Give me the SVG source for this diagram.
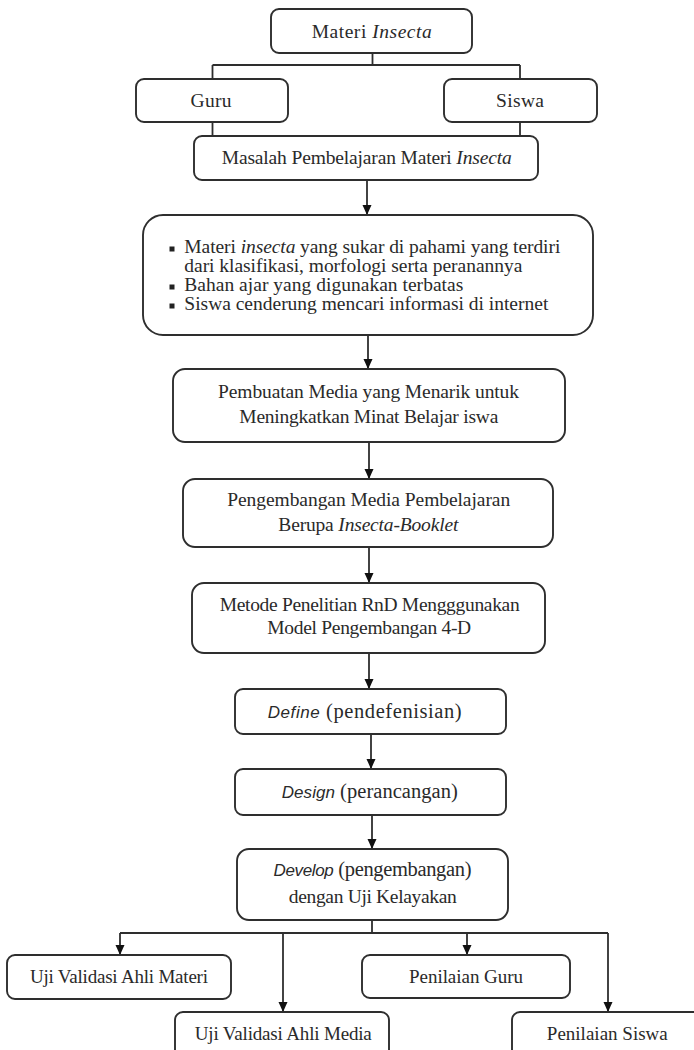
<svg xmlns="http://www.w3.org/2000/svg" width="694" height="1050" viewBox="0 0 694 1050">
<style>
.box{fill:#fff;stroke:#2e2e2e;stroke-width:1.9}
.t{font-family:"Liberation Serif","DejaVu Serif",serif;font-size:19.5px;fill:#2a2a2a;text-anchor:middle}
.tl{font-family:"Liberation Serif","DejaVu Serif",serif;font-size:19.5px;fill:#2a2a2a}
.b{font-size:19px}
.p{font-size:20.5px}
.i{font-style:italic}
.si{font-family:"Liberation Sans","DejaVu Sans",sans-serif;font-style:italic;font-size:17px}
.c{fill:none;stroke:#2e2e2e;stroke-width:1.8}
.bul{fill:#222}
</style>
<defs>
<marker id="ah" markerUnits="userSpaceOnUse" markerWidth="10" markerHeight="10" refX="10" refY="5" orient="auto">
<path d="M0,0.5 L10,5 L0,9.5 z" fill="#111"/>
</marker>
</defs>
<rect width="694" height="1050" fill="#fff"/>
<g id="connectors">
<path class="c" d="M372.5,53 V65 M212.5,65 H520 M212.5,65 V79 M520,65 V79 M212.5,122 V136 M520,122 V136"/>
<path class="c" d="M367,180 V215" marker-end="url(#ah)"/>
<path class="c" d="M368,335 V369" marker-end="url(#ah)"/>
<path class="c" d="M369,442 V479" marker-end="url(#ah)"/>
<path class="c" d="M369,547 V583" marker-end="url(#ah)"/>
<path class="c" d="M369,653 V689" marker-end="url(#ah)"/>
<path class="c" d="M371,734 V769" marker-end="url(#ah)"/>
<path class="c" d="M372,815 V849" marker-end="url(#ah)"/>
<path class="c" d="M372,920 V933 M120,933 H608"/>
<path class="c" d="M120,933 V955" marker-end="url(#ah)"/>
<path class="c" d="M283,933 V1012" marker-end="url(#ah)"/>
<path class="c" d="M467,933 V955" marker-end="url(#ah)"/>
<path class="c" d="M608,933 V1012" marker-end="url(#ah)"/>
</g>
<g id="materi-insecta">
<rect class="box" x="271" y="9" width="201" height="44" rx="8"/>
<text class="t" x="371.7" y="38" textLength="120">Materi <tspan class="i">Insecta</tspan></text>
</g>
<g id="guru">
<rect class="box" x="136" y="79" width="152" height="43" rx="8"/>
<text class="t" x="211" y="107" textLength="41">Guru</text>
</g>
<g id="siswa">
<rect class="box" x="444" y="79" width="153" height="43" rx="8"/>
<text class="t" x="520" y="107" textLength="48">Siswa</text>
</g>
<g id="masalah">
<rect class="box" x="194" y="136" width="344" height="44" rx="8"/>
<text class="t" x="366.7" y="164" textLength="290">Masalah Pembelajaran Materi <tspan class="i">Insecta</tspan></text>
</g>
<g id="masalah-list">
<rect class="box" x="143" y="215" width="450" height="120" rx="20"/>
<rect class="bul" x="169.5" y="246.5" width="5" height="5"/>
<rect class="bul" x="169.5" y="284.5" width="5" height="5"/>
<rect class="bul" x="169.5" y="303.5" width="5" height="5"/>
<text class="tl" x="184.3" y="253" textLength="376">Materi <tspan class="i">insecta</tspan> yang sukar di pahami yang terdiri</text>
<text class="tl" x="184.3" y="272" textLength="338">dari klasifikasi, morfologi serta peranannya</text>
<text class="tl" x="184.3" y="291" textLength="279">Bahan ajar yang digunakan terbatas</text>
<text class="tl" x="184.3" y="310" textLength="364">Siswa cenderung mencari informasi di internet</text>
</g>
<g id="pembuatan-media">
<rect class="box" x="173" y="369" width="392" height="73" rx="12"/>
<text class="t" x="368.5" y="398" textLength="301">Pembuatan Media yang Menarik untuk</text>
<text class="t" x="368.8" y="423" textLength="259">Meningkatkan Minat Belajar iswa</text>
</g>
<g id="pengembangan-media">
<rect class="box" x="183" y="479" width="370" height="68" rx="12"/>
<text class="t" x="368.7" y="506" textLength="283">Pengembangan Media Pembelajaran</text>
<text class="t" x="368.3" y="531" textLength="180">Berupa <tspan class="i">Insecta-Booklet</tspan></text>
</g>
<g id="metode">
<rect class="box" x="192" y="583" width="353" height="70" rx="12"/>
<text class="t" x="369.7" y="611" textLength="300">Metode Penelitian RnD Mengggunakan</text>
<text class="t" x="369.2" y="634" textLength="204">Model Pengembangan 4-D</text>
</g>
<g id="define">
<rect class="box" x="235" y="689" width="271" height="45" rx="8"/>
<text class="t p" x="364.7" y="718" textLength="194"><tspan class="si">Define</tspan> (pendefenisian)</text>
</g>
<g id="design">
<rect class="box" x="235" y="769" width="271" height="46" rx="8"/>
<text class="t p" x="369.8" y="798" textLength="176"><tspan class="si">Design</tspan> (perancangan)</text>
</g>
<g id="develop">
<rect class="box" x="237" y="849" width="271" height="71" rx="12"/>
<text class="t p" x="372.5" y="876" textLength="198"><tspan class="si">Develop</tspan> (pengembangan)</text>
<text class="t" x="372.8" y="903" textLength="168">dengan Uji Kelayakan</text>
</g>
<g id="uji-materi">
<rect class="box" x="7" y="955" width="224" height="44" rx="8"/>
<text class="t b" x="119" y="983" textLength="178">Uji Validasi Ahli Materi</text>
</g>
<g id="penilaian-guru">
<rect class="box" x="362" y="955" width="208" height="43" rx="8"/>
<text class="t b" x="466" y="983" textLength="114">Penilaian Guru</text>
</g>
<g id="uji-media">
<rect class="box" x="175" y="1012" width="214" height="60" rx="8"/>
<text class="t b" x="283.3" y="1040" textLength="177">Uji Validasi Ahli Media</text>
</g>
<g id="penilaian-siswa">
<rect class="box" x="512" y="1012" width="200" height="60" rx="8"/>
<text class="t b" x="607.3" y="1040" textLength="121">Penilaian Siswa</text>
</g>
</svg>
